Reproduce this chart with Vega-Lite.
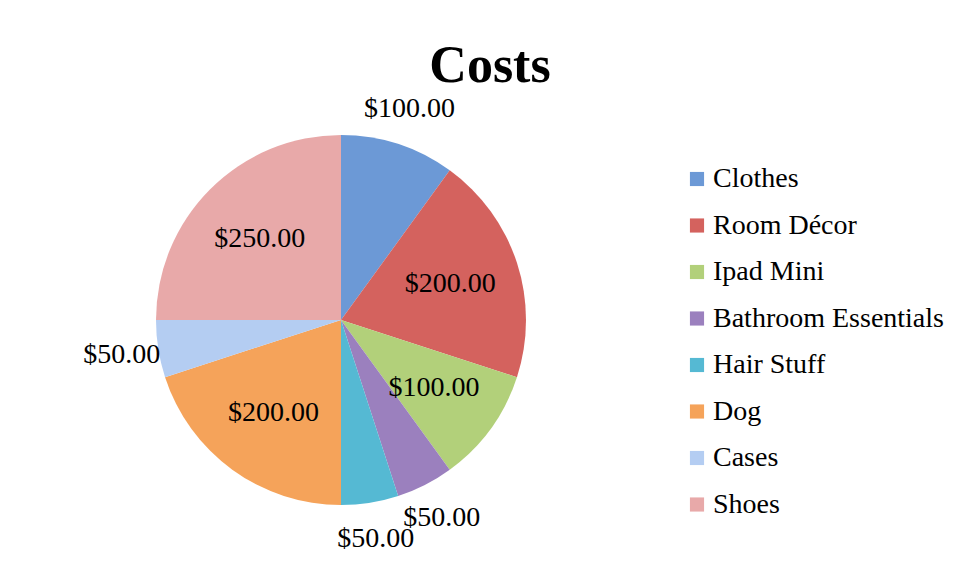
{
  "$schema": "https://vega.github.io/schema/vega-lite/v6.json",
  "autosize": "none",
  "width": 682,
  "height": 440,
  "padding": {"top": 100, "left": 0, "right": 275, "bottom": 41},
  "background": "white",
  "title": {"text": "Costs", "font": "Liberation Serif", "fontSize": 52, "fontWeight": "bold", "color": "black", "anchor": "middle", "dx": 149, "offset": 2},
  "config": {"view": {"stroke": null}},
  "data": {"values": [
    {"category": "Clothes", "cost": 100, "idx": 1},
    {"category": "Room Décor", "cost": 200, "idx": 2},
    {"category": "Ipad Mini", "cost": 100, "idx": 3},
    {"category": "Bathroom Essentials", "cost": 50, "idx": 4},
    {"category": "Hair Stuff", "cost": 50, "idx": 5},
    {"category": "Dog", "cost": 200, "idx": 6},
    {"category": "Cases", "cost": 50, "idx": 7},
    {"category": "Shoes", "cost": 250, "idx": 8}
  ]},
  "encoding": {
    "theta": {"field": "cost", "type": "quantitative", "stack": true},
    "order": {"field": "idx", "type": "quantitative"}
  },
  "layer": [
    {
      "mark": {"type": "arc", "radius": 185},
      "encoding": {
        "color": {
          "field": "category", "type": "nominal",
          "scale": {
            "domain": ["Clothes", "Room Décor", "Ipad Mini", "Bathroom Essentials", "Hair Stuff", "Dog", "Cases", "Shoes"],
            "range": ["#6C99D6", "#D4625E", "#B2D07A", "#9B80BE", "#55B9D3", "#F5A35A", "#B4CDF2", "#E8A9A9"]
          },
          "legend": {
            "title": null, "orient": "none", "legendX": 683, "legendY": 65,
            "symbolType": "square", "symbolSize": 200, "symbolStrokeWidth": 0,
            "labelFont": "Liberation Serif", "labelFontSize": 28, "labelColor": "black",
            "labelOffset": 2, "rowPadding": 18.5, "labelLimit": 400
          }
        }
      }
    },
    {
      "mark": {"type": "text", "radius": 115, "font": "Liberation Serif", "fontSize": 28, "color": "black"},
      "encoding": {
        "text": {"field": "cost", "type": "quantitative", "format": "$.2f",
          "condition": {"test": "indexof(['Clothes','Bathroom Essentials','Hair Stuff','Cases'], datum.category) >= 0", "value": ""}}
      }
    },
    {
      "mark": {"type": "text", "radius": 222, "font": "Liberation Serif", "fontSize": 28, "color": "black"},
      "encoding": {
        "text": {"field": "cost", "type": "quantitative", "format": "$.2f",
          "condition": {"test": "indexof(['Clothes','Bathroom Essentials','Hair Stuff','Cases'], datum.category) < 0", "value": ""}}
      }
    }
  ]
}
